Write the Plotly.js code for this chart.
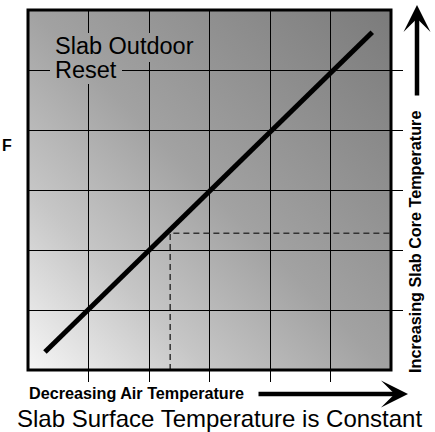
<!DOCTYPE html>
<html>
<head>
<meta charset="utf-8">
<script src="https://cdn.plot.ly/plotly-3.0.1.min.js"></script>
<style>html,body{margin:0;padding:0;background:#fff;}#chart{width:435px;height:432px;}</style>
</head>
<body>
<div id="chart"></div>
<script>
// ---- data ----
const resetLineX = [0.28, 5.69];   // decreasing air temperature (grid units)
const resetLineY = [0.30, 5.63];   // increasing slab core temperature (grid units)
const guideX = [2.35, 2.35, 6];    // example operating point guide
const guideY = [0, 2.28, 2.28];
const gridTicks = [1, 2, 3, 4, 5];
const axisRange = [0, 6];

const labelInside1 = "Slab Outdoor";
const labelInside2 = "Reset";
const xLabel = "Decreasing Air Temperature";
const yLabel = "Increasing Slab Core Temperature";
const bottomTitle = "Slab Surface Temperature is Constant";
const leftLabel = "F";

// ---- layout geometry ----
const W = 435, H = 432;
const M = {l: 28, r: 44, t: 10, b: 62};
const PW = W - M.l - M.r, PH = H - M.t - M.b;
const FONT = "Liberation Sans, Arial, Helvetica, sans-serif";

function gradSvg(x0, y0, w, h) {
  const svg = `<svg xmlns="http://www.w3.org/2000/svg" width="${w}" height="${h}" viewBox="${x0} ${y0} ${w} ${h}" preserveAspectRatio="none">` +
    `<defs><linearGradient id="g" gradientUnits="userSpaceOnUse" x1="0" y1="${PH}" x2="${PW}" y2="0">` +
    `<stop offset="0" stop-color="#f6f6f6"/><stop offset="0.25" stop-color="#c6c6c6"/>` +
    `<stop offset="0.5" stop-color="#a2a2a2"/><stop offset="1" stop-color="#7b7b7b"/></linearGradient></defs>` +
    `<rect x="${x0}" y="${y0}" width="${w}" height="${h}" fill="url(#g)"/></svg>`;
  return 'data:image/svg+xml;charset=utf-8,' + encodeURIComponent(svg);
}
function patch(x0, y0, w, h, layer) {
  return {source: gradSvg(x0, y0, w, h), xref: 'paper', yref: 'paper',
    x: x0 / PW, y: 1 - y0 / PH, sizex: w / PW, sizey: h / PH,
    xanchor: 'left', yanchor: 'top', sizing: 'stretch', layer: layer};
}
const px = v => (v - M.l) / PW;
const py = v => (H - M.b - v) / PH;

const traces = [
  {x: guideX, y: guideY, mode: 'lines', line: {color: '#333', width: 1.5, dash: '6px,4px'}, hoverinfo: 'skip'},
  {x: resetLineX, y: resetLineY, mode: 'lines', line: {color: '#000', width: 5}, hoverinfo: 'skip'}
];

const axisCommon = {
  range: axisRange, tickvals: gridTicks, showticklabels: false,
  ticks: 'outside', ticklen: 11, tickwidth: 1, tickcolor: '#000',
  showgrid: true, gridcolor: '#000', gridwidth: 1,
  zeroline: false, showline: false, fixedrange: true
};

const layout = {
  width: W, height: H, margin: M, showlegend: false,
  paper_bgcolor: '#fff', plot_bgcolor: 'rgba(0,0,0,0)',
  font: {family: FONT, color: '#000'},
  xaxis: Object.assign({}, axisCommon, {side: 'bottom'}),
  yaxis: Object.assign({}, axisCommon, {side: 'right'}),
  images: [
    patch(0, 0, PW, PH, 'below'),
    patch(24, 23, 145, 29, 'above'),
    patch(22, 52, 72, 22, 'above')
  ],
  shapes: [
    {type: 'rect', xref: 'paper', yref: 'paper', x0: 0, x1: 1, y0: 0, y1: 1,
     line: {color: '#000', width: 3}, layer: 'above'}
  ],
  annotations: [
    {text: labelInside1, xref: 'paper', yref: 'paper', x: px(53), y: py(46), xanchor: 'left', yanchor: 'middle',
     showarrow: false, font: {size: 23.5, family: FONT}},
    {text: labelInside2, xref: 'paper', yref: 'paper', x: px(53), y: py(70), xanchor: 'left', yanchor: 'middle',
     showarrow: false, font: {size: 23.5, family: FONT}},
    {text: xLabel, xref: 'paper', yref: 'paper', x: px(27), y: py(393), xanchor: 'left', yanchor: 'middle',
     showarrow: false, font: {size: 16.2, family: FONT, weight: 'bold'}},
    {text: '', xref: 'paper', yref: 'paper', x: px(408), y: py(394), ax: -151, ay: 0,
     showarrow: true, arrowhead: 3, arrowwidth: 4.5, arrowsize: 1.0, arrowcolor: '#000', standoff: 0},
    {text: bottomTitle, xref: 'paper', yref: 'paper', x: px(219), y: py(418), xanchor: 'center', yanchor: 'middle',
     showarrow: false, font: {size: 24, family: FONT}},
    {text: yLabel, xref: 'paper', yref: 'paper', x: px(415), y: py(242), xanchor: 'center', yanchor: 'middle',
     textangle: -90, showarrow: false, font: {size: 16.2, family: FONT, weight: 'bold'}},
    {text: '', xref: 'paper', yref: 'paper', x: px(417), y: py(5), ax: 0, ay: 92,
     showarrow: true, arrowhead: 3, arrowwidth: 4.5, arrowsize: 1.0, arrowcolor: '#000', standoff: 0},
    {text: leftLabel, xref: 'paper', yref: 'paper', x: px(7), y: py(145), xanchor: 'center', yanchor: 'middle',
     showarrow: false, font: {size: 16, family: FONT, weight: 'bold'}}
  ]
};

Plotly.newPlot('chart', traces, layout, {staticPlot: true, displayModeBar: false});
</script>
</body>
</html>
